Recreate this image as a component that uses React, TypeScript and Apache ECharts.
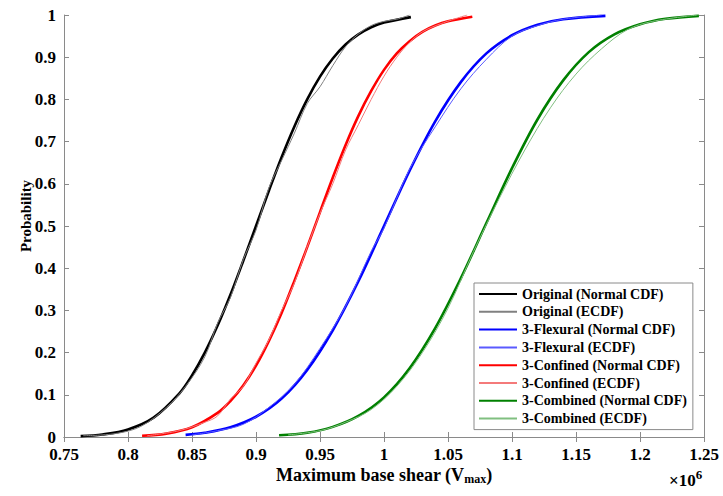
import React, { useEffect, useRef } from "react";
import * as echarts from "echarts";

// ---- data (x in units of 10^6) ----
const xTicks = [0.75, 0.8, 0.85, 0.9, 0.95, 1, 1.05, 1.1, 1.15, 1.2, 1.25];

const xOriginalCdf = [0.763, 0.78, 0.8, 0.82, 0.84, 0.85, 0.86, 0.87, 0.88, 0.89, 0.9, 0.91, 0.92, 0.93, 0.94, 0.95, 0.96, 0.97, 0.98, 0.99, 1.0, 1.021];
const pOriginalCdf = [0.002, 0.006, 0.018, 0.046, 0.103, 0.146, 0.2, 0.264, 0.337, 0.417, 0.5, 0.583, 0.663, 0.736, 0.8, 0.854, 0.897, 0.93, 0.954, 0.971, 0.982, 0.995];
const xOriginalEcdf = [0.765, 0.79, 0.81, 0.83, 0.845, 0.86, 0.87, 0.88, 0.89, 0.9, 0.91, 0.92, 0.93, 0.94, 0.95, 0.96, 0.97, 0.98, 0.99, 1.0, 1.01, 1.02];
const pOriginalEcdf = [0.003, 0.008, 0.025, 0.07, 0.12, 0.19, 0.27, 0.33, 0.42, 0.49, 0.59, 0.655, 0.72, 0.79, 0.83, 0.88, 0.925, 0.955, 0.975, 0.985, 0.99, 1.0];

const xFlexuralCdf = [0.845, 0.86, 0.88, 0.9, 0.92, 0.94, 0.96, 0.98, 1.0, 1.02, 1.04, 1.06, 1.08, 1.1, 1.12, 1.14, 1.173];
const pFlexuralCdf = [0.005, 0.01, 0.023, 0.048, 0.091, 0.159, 0.253, 0.369, 0.5, 0.631, 0.748, 0.841, 0.909, 0.952, 0.977, 0.99, 0.998];
const xFlexuralEcdf = [0.85, 0.87, 0.89, 0.91, 0.93, 0.95, 0.97, 0.99, 1.0, 1.02, 1.04, 1.06, 1.08, 1.1, 1.12, 1.14, 1.17];
const pFlexuralEcdf = [0.005, 0.015, 0.03, 0.07, 0.125, 0.21, 0.31, 0.44, 0.495, 0.635, 0.735, 0.825, 0.895, 0.95, 0.975, 0.99, 1.0];

const xConfinedCdf = [0.811, 0.83, 0.85, 0.87, 0.88, 0.89, 0.9, 0.91, 0.92, 0.93, 0.94, 0.95, 0.96, 0.97, 0.98, 0.99, 1.0, 1.01, 1.02, 1.03, 1.04, 1.05, 1.069];
const pConfinedCdf = [0.003, 0.008, 0.023, 0.057, 0.085, 0.122, 0.169, 0.227, 0.294, 0.37, 0.45, 0.533, 0.615, 0.692, 0.761, 0.82, 0.87, 0.909, 0.938, 0.96, 0.975, 0.985, 0.996];
const xConfinedEcdf = [0.815, 0.84, 0.86, 0.87, 0.88, 0.89, 0.9, 0.91, 0.92, 0.93, 0.94, 0.95, 0.96, 0.97, 0.98, 0.99, 1.0, 1.01, 1.02, 1.03, 1.045, 1.065];
const pConfinedEcdf = [0.003, 0.015, 0.035, 0.05, 0.09, 0.12, 0.175, 0.23, 0.3, 0.365, 0.45, 0.53, 0.6, 0.68, 0.74, 0.8, 0.855, 0.9, 0.935, 0.96, 0.98, 1.0];

const xCombinedCdf = [0.918, 0.94, 0.96, 0.98, 1.0, 1.02, 1.04, 1.06, 1.08, 1.1, 1.12, 1.14, 1.16, 1.18, 1.2, 1.22, 1.246];
const pCombinedCdf = [0.004, 0.01, 0.024, 0.05, 0.094, 0.163, 0.258, 0.376, 0.507, 0.637, 0.753, 0.845, 0.912, 0.954, 0.978, 0.991, 0.998];
const xCombinedEcdf = [0.925, 0.95, 0.97, 0.99, 1.01, 1.03, 1.05, 1.07, 1.09, 1.11, 1.13, 1.15, 1.17, 1.19, 1.21, 1.245];
const pCombinedEcdf = [0.005, 0.015, 0.035, 0.065, 0.12, 0.2, 0.305, 0.44, 0.565, 0.68, 0.78, 0.86, 0.92, 0.965, 0.985, 1.0];

const seriesNames = [
  "Original (Normal CDF)",
  "Original (ECDF)",
  "3-Flexural (Normal CDF)",
  "3-Flexural (ECDF)",
  "3-Confined (Normal CDF)",
  "3-Confined (ECDF)",
  "3-Combined (Normal CDF)",
  "3-Combined (ECDF)",
];

const FONT = "'Liberation Serif', 'Times New Roman', serif";

const zip = (xs: number[], ys: number[]) => xs.map((x, i) => [x, ys[i]]);

export default function App() {
  const ref = useRef<HTMLDivElement>(null);

  useEffect(() => {
    document.body.style.margin = "0";
    if (!ref.current) return;
    const chart = echarts.init(ref.current, undefined, { renderer: "svg" });

    const sets = [
      { name: seriesNames[0], data: zip(xOriginalCdf, pOriginalCdf), color: "#000000", width: 2.6 },
      { name: seriesNames[1], data: zip(xOriginalEcdf, pOriginalEcdf), color: "#808080", width: 1 },
      { name: seriesNames[2], data: zip(xFlexuralCdf, pFlexuralCdf), color: "#0000ff", width: 2.6 },
      { name: seriesNames[3], data: zip(xFlexuralEcdf, pFlexuralEcdf), color: "#5a5aff", width: 1 },
      { name: seriesNames[4], data: zip(xConfinedCdf, pConfinedCdf), color: "#ff0000", width: 2.6 },
      { name: seriesNames[5], data: zip(xConfinedEcdf, pConfinedEcdf), color: "#f47a7a", width: 1 },
      { name: seriesNames[6], data: zip(xCombinedCdf, pCombinedCdf), color: "#008000", width: 2.6 },
      { name: seriesNames[7], data: zip(xCombinedEcdf, pCombinedEcdf), color: "#80bf80", width: 1 },
    ];

    const axisGrey = "#8a8a8a";
    const labelStyle = { fontFamily: FONT, fontWeight: "bold" as const, fontSize: 17, color: "#000" };

    chart.setOption({
      animation: false,
      grid: { left: 64, right: 19, top: 15, bottom: 59, containLabel: false },
      legend: {
        orient: "vertical",
        left: 474,
        top: 283,
        data: seriesNames,
        itemWidth: 38,
        itemHeight: 14,
        itemGap: 3.8,
        padding: [4, 6, 4, 4],
        borderColor: axisGrey,
        borderWidth: 1,
        backgroundColor: "#fff",
        selectedMode: false,
        itemStyle: { opacity: 0 },
        textStyle: { fontFamily: FONT, fontWeight: "bold", fontSize: 14, color: "#000" },
      },
      xAxis: [
        {
          type: "value",
          position: "bottom",
          min: xTicks[0],
          max: xTicks[xTicks.length - 1],
          interval: 0.05,
          axisLine: { show: true, lineStyle: { color: axisGrey, width: 1 } },
          axisTick: { show: true, inside: true, length: 5, lineStyle: { color: axisGrey } },
          axisLabel: { ...labelStyle, margin: 9 },
          splitLine: { show: false },
          name: "Maximum base shear (V{sub|max})",
          nameLocation: "middle",
          nameMoveOverlap: false,
          nameGap: 27,
          nameTextStyle: {
            ...labelStyle,
            fontSize: 18,
            rich: {
              sub: { fontFamily: FONT, fontWeight: "bold", fontSize: 12, color: "#000", padding: [9, 0, 0, 0] },
            },
          },
        },
        {
          type: "value",
          position: "top",
          min: xTicks[0],
          max: xTicks[xTicks.length - 1],
          interval: 0.05,
          axisLine: { show: true, lineStyle: { color: axisGrey, width: 1 } },
          axisTick: { show: true, inside: true, length: 5, lineStyle: { color: axisGrey } },
          axisLabel: { show: false },
          splitLine: { show: false },
        },
      ],
      yAxis: [
        {
          type: "value",
          position: "left",
          min: 0,
          max: 1,
          interval: 0.1,
          axisLine: { show: true, lineStyle: { color: axisGrey, width: 1 } },
          axisTick: { show: true, inside: true, length: 5, lineStyle: { color: axisGrey } },
          axisLabel: { ...labelStyle, margin: 8 },
          splitLine: { show: false },
        },
        {
          type: "value",
          position: "right",
          min: 0,
          max: 1,
          interval: 0.1,
          axisLine: { show: true, lineStyle: { color: axisGrey, width: 1 } },
          axisTick: { show: true, inside: true, length: 5, lineStyle: { color: axisGrey } },
          axisLabel: { show: false },
          splitLine: { show: false },
        },
      ],
      graphic: [
        {
          type: "text",
          x: 26,
          y: 216,
          rotation: Math.PI / 2,
          style: {
            text: "Probability",
            fontFamily: FONT,
            fontWeight: "bold",
            fontSize: 15,
            fill: "#000",
            align: "center",
            verticalAlign: "middle",
          },
        },
        {
          type: "text",
          left: 669,
          top: 468,
          style: {
            text: "×10{sup|6}",
            fontFamily: FONT,
            fontWeight: "bold",
            fontSize: 17,
            fill: "#000",
            rich: {
              sup: { fontFamily: FONT, fontWeight: "bold", fontSize: 13, fill: "#000", padding: [0, 0, 12, 0] },
            },
          },
        },
      ],
      series: sets.map((s) => ({
        name: s.name,
        type: "line",
        xAxisIndex: 0,
        yAxisIndex: 0,
        data: s.data,
        smooth: 0.35,
        showSymbol: false,
        symbol: "none",
        clip: true,
        lineStyle: { color: s.color, width: s.width },
        itemStyle: { color: s.color },
        emphasis: { disabled: true },
      })),
    });

    return () => chart.dispose();
  }, []);

  return <div ref={ref} style={{ width: 723, height: 496 }} />;
}
